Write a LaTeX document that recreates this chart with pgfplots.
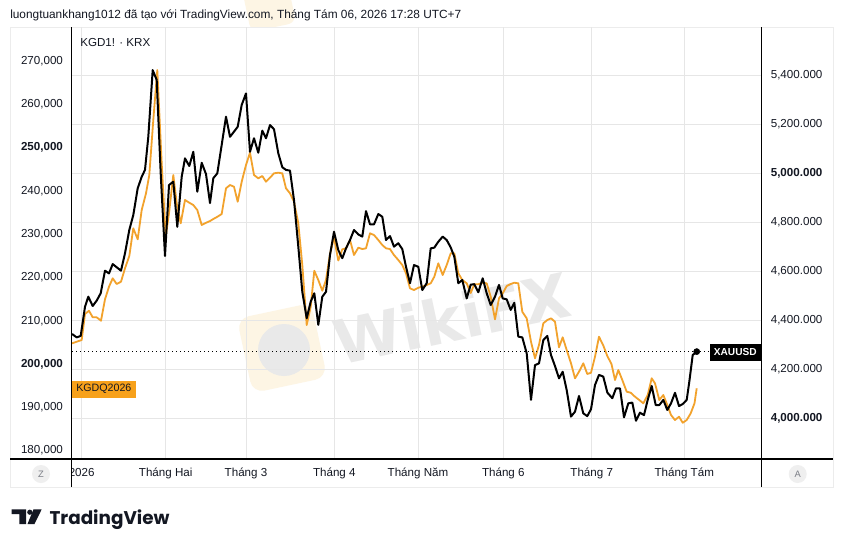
\documentclass[border=0pt]{standalone}
\usepackage{fontspec}
\setmainfont{Liberation Sans}
\newfontfamily\wmfont{DejaVu Sans}
\newfontfamily\tvfont{Poppins}
\usepackage{pgfplots}
\pgfplotsset{compat=1.18}
\definecolor{tvtext}{HTML}{131722}
\definecolor{gridc}{HTML}{E6E6E6}
\definecolor{framec}{HTML}{ECECEC}
\definecolor{kgdorange}{HTML}{F2A22C}
\definecolor{boxorange}{HTML}{F7A11B}
\definecolor{wmgray}{HTML}{E9E9E9}
\definecolor{wmyellow}{HTML}{FDF5E4}
\definecolor{zcirc}{HTML}{EFEFEF}
\definecolor{ztext}{HTML}{7A7D85}
\newcommand\tvsize{\fontsize{8.7pt}{10pt}\selectfont}
\pgfplotsset{tvbase/.style={at={(54pt,-344.25pt)}, anchor=south west, scale only axis,
  width=517.5pt, height=324pt, xmin=0, xmax=690, axis line style={draw=none},
  major tick length=0pt, tick style={draw=none}, scaled x ticks=false, scaled y ticks=false,
  ticklabel style={font=\tvsize, text=tvtext, inner sep=0pt}}}
\begin{document}
\begin{tikzpicture}
\path[use as bounding box] (0,0) rectangle (632.25pt,-410.25pt);
\fill[white] (0,0) rectangle (632.25pt,-410.25pt);
\begin{scope}[x=0.75pt,y=-0.75pt]
  \begin{scope}
    \clip (200,0) rectangle (420,26.5);
    \fill[wmyellow, rounded corners=6pt, rotate around={12:(268,6)}] (246,-16) rectangle (292,28);
  \end{scope}
  \fill[wmyellow, rounded corners=9pt, rotate around={12:(282,348)}] (244,310) rectangle (320,386);
  \fill[wmgray] (284,350) circle (26);
  \node[text=wmgray, font=\wmfont\bfseries\fontsize{46pt}{46pt}\selectfont, rotate=12] at (452,318) {WikiFX};
  \draw[framec, line width=0.75pt] (10,27) rectangle (833,487);
\end{scope}

\begin{axis}[tvbase, ymin=3834, ymax=5595.8,
  ytick={4000,4200,4400,4600,4800,5000,5200,5400},
  yticklabels={{\textbf{4,000.000}},{4,200.000},{4,400.000},{4,600.000},{4,800.000},{\textbf{5,000.000}},{5,200.000},{5,400.000}},
  yticklabel pos=right, yticklabel style={anchor=west, xshift=6.4pt},
  ymajorgrids, xmajorgrids, grid style={draw=gridc, line width=0.75pt},
  xtick={9.7,93.7,174,262.3,346,431.3,519.7,612.3},
  xticklabels={2026,Tháng Hai,Tháng 3,Tháng 4,Tháng Năm,Tháng 6,Tháng 7,Tháng Tám},
  xticklabel style={anchor=base, yshift=-13.3pt}]
\end{axis}

\begin{axis}[tvbase, ymin=178000, ymax=277950, xtick=\empty,
  ytick={180000,190000,200000,210000,220000,230000,240000,250000,260000,270000},
  yticklabels={{180,000},{190,000},{\textbf{200,000}},{210,000},{220,000},{230,000},{240,000},{\textbf{250,000}},{260,000},{270,000}},
  yticklabel style={anchor=east, xshift=-6.6pt}]
\addplot[kgdorange, line width=1.35pt, line join=round] coordinates {
(0,204766) (4.7,205136) (9.7,205530) (13,211545) (17,212309) (20.7,210782) (24.7,210782) (29,209995) (33,214947) (37,217862) (40.7,219805) (44.7,218487) (49,219019) (53,222119) (57.3,224965) (61.3,231374) (65.7,228829) (69.7,235608) (74,239472) (77.3,243706) (81.3,256431) (85.3,268000) (89.7,246413) (93.7,229430) (97,234844) (101.3,243706) (104.7,237158) (108.7,232531) (113,237922) (117.3,237297) (121.3,236765) (125.3,235608) (129.7,232137) (134,232646) (138,233063) (141.3,233526) (145.3,234035) (149.7,234683) (154,240629) (158,241392) (162,241000) (165.7,237528) (169.7,242156) (174,246020) (178,248865) (182,243706) (186.3,242942) (190.3,243474) (194,242156) (198,243081) (202,244099) (206.3,244238) (210.3,244099) (214,240629) (218,239472) (222,237528) (226.3,232531) (230.3,222883) (234.7,209000) (238.7,213234) (242.3,221564) (246.3,219412) (250.3,216936) (254,219412) (258,225428) (262,229245) (266.3,223924) (270.3,226515) (274,226746) (278,228667) (282,225196) (286.3,226885) (290.3,226585) (294,226746) (298,230217) (302,229824) (306.3,228667) (310.3,227510) (314,226746) (318,226585) (322,225196) (326.3,224040) (330.3,222883) (334,220962) (338,217492) (342,217098) (346.3,217630) (350.3,217862) (354.7,218255) (358.7,218648) (362.3,220176) (366.3,223276) (370.7,220569) (374.7,222883) (378.7,225590) (382.3,225590) (386.3,220962) (390.3,219412) (394.7,218648) (398.7,216404) (402.3,218440) (406.3,218440) (410.7,218787) (414.7,218648) (418.7,215548) (423,210319) (427,215178) (430.7,216335) (434.7,218024) (438.7,218487) (442.3,218787) (446.3,218648) (450.3,212078) (454.7,210550) (459,205136) (463,201296) (467,204373) (471.3,209394) (475.3,210157) (479,210550) (483,209764) (487,203841) (490.7,206154) (494.7,203216) (499,200139) (503,196668) (507,198195) (511.3,200139) (515.3,197663) (519,197964) (523,201666) (527,206293) (531.3,204257) (535.3,201828) (539.5,199977) (543,196275) (546.3,198589) (550.3,196275) (554.7,193568) (558.7,193337) (563,192411) (567.3,191647) (571.3,190884) (575.7,192804) (579.7,196668) (583,195511) (587.3,191647) (591.3,192804) (595.3,190491) (599,188177) (603,187020) (607,187784) (610.7,186395) (614.7,187020) (618.7,188570) (622.5,190884) (624.7,194355)};
\end{axis}

\begin{axis}[tvbase, ymin=3834, ymax=5595.8, xtick=\empty, ytick=\empty]
\addplot[black, line width=0.9pt, dash pattern=on 0.75pt off 2.25pt] coordinates {(0,4272) (638,4272)};
\addplot[black, line width=1.5pt, line join=round] coordinates {
(0,4344) (4.7,4330) (8.7,4336) (13,4455) (16.3,4496) (20.7,4458) (24.7,4480) (28.7,4510) (33,4602) (37,4591) (40.7,4629) (44.7,4616) (49,4602) (53,4673) (57.3,4768) (61.3,4829) (65.7,4938) (69.7,4985) (73,5013) (76.3,5148) (80.7,5420) (84.7,5380) (88.7,4999) (93,4662) (97,4951) (101.3,4965) (105.3,4781) (109.7,4985) (113,5060) (117.3,5029) (121.3,5087) (125.3,4924) (129.7,5042) (134,4996) (138,4878) (141.3,4979) (145.3,4999) (149.7,5115) (154,5230) (158,5148) (162,5169) (165.7,5189) (169.7,5278) (174,5325) (178,5087) (182,5142) (186.3,5083) (190.3,5173) (194,5142) (198,5196) (202,5179) (206.3,5081) (210.3,5024) (214,5013) (218,5010) (222,4890) (226.3,4700) (230.3,4516) (234.7,4408) (238.7,4476) (242.3,4510) (246.3,4381) (250.3,4496) (254,4516) (258,4666) (262,4761) (266.3,4686) (270.3,4653) (274,4693) (278,4727) (282,4768) (286.3,4750) (290.3,4741) (294,4845) (298,4791) (302,4791) (306.3,4833) (310.3,4822) (314,4727) (318,4743) (322,4700) (326.3,4714) (330.3,4690) (334,4618) (338,4551) (342,4625) (346.3,4618) (350.3,4523) (354.7,4551) (358.7,4693) (362.3,4696) (366.3,4720) (370.7,4741) (374.7,4727) (378.7,4697) (382.3,4659) (386.3,4551) (390.3,4564) (394.7,4489) (398.7,4545) (402.3,4547) (406.3,4514) (410.7,4571) (414.7,4510) (418.7,4462) (423,4496) (427,4544) (430.7,4489) (434.7,4485) (438.7,4442) (442.3,4471) (446.3,4333) (450.3,4330) (454.7,4265) (459,4075) (463,4217) (467,4224) (471.3,4319) (475.3,4336) (479,4258) (483,4213) (487,4163) (490.7,4190) (494.7,4115) (499,4007) (503,4027) (507,4091) (511.3,4020) (515.3,4009) (519,4037) (523,4136) (527,4177) (531.3,4170) (535.3,4105) (540.3,4082) (544,4122) (548,4122) (552,4004) (556.3,4061) (560.3,4064) (564,3990) (568,4023) (572,4013) (575.7,4075) (579.7,4132) (583.7,4054) (587.3,4054) (591.3,4075) (595.3,4034) (599,4061) (603,4104) (607,4050) (610.7,4058) (614.7,4075) (617.3,4149) (620.7,4258) (624.7,4272)};
\addplot[only marks, mark=*, mark size=2.3pt, black] coordinates {(624.7,4272)};
\end{axis}

\begin{scope}[x=0.75pt,y=-0.75pt]
  \fill[white] (58,461) rectangle (71,484);
  \draw[black, line width=1pt] (71.5,27) -- (71.5,487);
  \draw[black, line width=1pt] (761.7,27) -- (761.7,487);
  \draw[black, line width=1pt] (10,459) -- (833,459);
  \fill[zcirc] (41,474) circle (9);
  \node[text=ztext, inner sep=0] at (41,474) {\fontsize{7pt}{8pt}\selectfont Z};
  \fill[zcirc] (797.7,474) circle (9);
  \node[text=ztext, inner sep=0] at (797.7,474) {\fontsize{7pt}{8pt}\selectfont A};
  \fill[boxorange] (71.7,380.7) rectangle (136,397.7);
  \node[anchor=west, inner sep=0, text=tvtext] at (76,389.2) {\fontsize{8pt}{9pt}\selectfont KGDQ2026};
  \fill[black] (710,344) rectangle (760.7,360.7);
  \node[text=white, inner sep=0] at (735.3,352.4) {\fontsize{7.6pt}{9pt}\selectfont\bfseries XAUUSD};
  \node[anchor=base west, inner sep=0, text=tvtext] at (10,18.3) {\resizebox{338.25pt}{!}{\fontsize{9pt}{10pt}\selectfont luongtuankhang1012 đã tạo với TradingView.com, Tháng Tám 06, 2026 17:28 UTC+7}};
  \node[anchor=base west, inner sep=0, text=tvtext] at (80,46) {\tvsize KGD1! · KRX};
  \fill[tvtext] (11.7,509.3) rectangle (26,514) (19.3,509.3) rectangle (26,524);
  \fill[tvtext] (29.8,512.2) circle (2.6);
  \fill[tvtext] (33.5,509.3) -- (41.7,509.3) -- (34.5,524) -- (27.5,524) -- cycle;
  \node[anchor=base west, inner sep=0, text=tvtext] at (49.3,524) {\resizebox{90pt}{!}{\tvfont\bfseries TradingView}};
\end{scope}
\end{tikzpicture}
\end{document}
